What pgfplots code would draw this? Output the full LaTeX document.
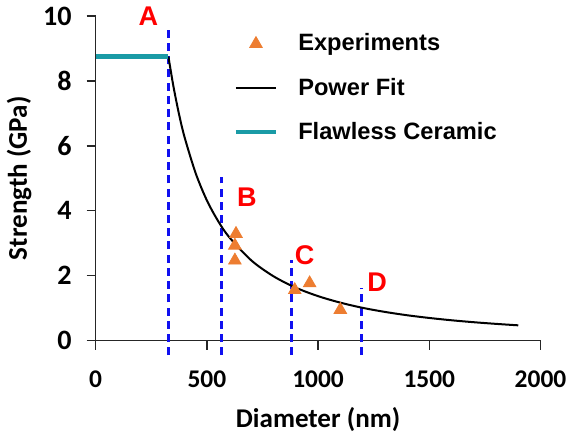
\documentclass[border=0pt]{standalone}
\usepackage{fontspec}
\setmainfont{Carlito}
\newfontfamily\arialf{Liberation Sans}
\usepackage{pgfplots}
\pgfplotsset{compat=1.18}
\definecolor{expor}{HTML}{ED7D31}
\definecolor{flaw}{HTML}{1A9BA6}
\definecolor{vblue}{HTML}{1010F0}
\pgfplotsset{
  markleg/.style={legend image code/.code={\draw[##1] plot coordinates {(10pt,0pt)};}},
  lineleg/.style={legend image code/.code={\draw[##1] (0pt,0pt) -- (20pt,0pt);}},
  vdash/.style={vblue, line width=1.5pt, dash pattern=on 4pt off 2.6pt, forget plot},
}

\begin{document}
\begin{tikzpicture}
\begin{axis}[
  scale only axis, width=222pt, height=162pt,
  xmin=0, xmax=2000, ymin=0, ymax=10,
  xtick={0,500,1000,1500,2000}, ytick={0,2,4,6,8,10},
  axis x line=bottom, axis y line=left,
  axis line style={-, line width=0.7pt, black!85},
  tick style={line width=0.7pt, black!85}, tick align=outside, major tick length=4.5pt,
  /pgf/number format/assume math mode=true,
  /pgf/number format/set thousands separator={},
  xticklabel style={font=\fontsize{12.7}{14}\selectfont\bfseries, yshift=-7pt},
  yticklabel style={font=\fontsize{14}{15}\selectfont\bfseries, xshift=-4pt},
  label style={font=\fontsize{13.5}{15}\selectfont\bfseries},
  xlabel={Diameter (nm)}, ylabel={Strength (GPa)},
  xlabel style={yshift=-3pt}, ylabel style={yshift=-1pt},
  clip=false,
  legend cell align=left,
  legend style={draw=none, fill=none, at={(0.305,0.965)}, anchor=north west,
    font=\arialf\fontsize{11.8}{13}\selectfont\bfseries, row sep=8pt,
    inner sep=1pt, /tikz/every odd column/.append style={column sep=8pt}},
]
% blue dashed markers
\addplot[vdash] coordinates {(327,-0.45) (327,9.6)};
\addplot[vdash] coordinates {(564,-0.45) (564,5.05)};
\addplot[vdash] coordinates {(881,-0.45) (881,2.47)};
\addplot[vdash] coordinates {(1195,-0.45) (1195,1.62)};

\addplot[only marks, mark=triangle*, mark size=3.6pt, color=expor, markleg] coordinates {
  (631,3.29) (626,2.93) (626,2.47) (895,1.56) (962,1.77) (1100,0.95)};
\addlegendentry{Experiments}

\addplot[black, line width=1pt, smooth, lineleg] coordinates {
  (327,8.75) (350,7.82) (375,6.97) (400,6.26) (450,5.15) (500,4.32) (550,3.69)
  (600,3.19) (700,2.47) (800,1.98) (900,1.63) (1000,1.37) (1100,1.17)
  (1200,1.01) (1300,0.885) (1400,0.782) (1500,0.698) (1600,0.627)
  (1700,0.567) (1800,0.516) (1900,0.471)};
\addlegendentry{Power Fit}

\addplot[flaw, line width=2.2pt, lineleg] coordinates {
  (0,8.75) (327,8.75)};
\addlegendentry{Flawless Ceramic}

\begin{scope}[every node/.style={text=red, font=\arialf\fontsize{13.5}{15}\selectfont\bfseries}]
\node at (axis cs:237,10.0) {A};
\node at (axis cs:680,4.42) {B};
\node at (axis cs:940,2.62) {C};
\node at (axis cs:1266,1.8) {D};
\end{scope}
\end{axis}
\end{tikzpicture}
\end{document}
